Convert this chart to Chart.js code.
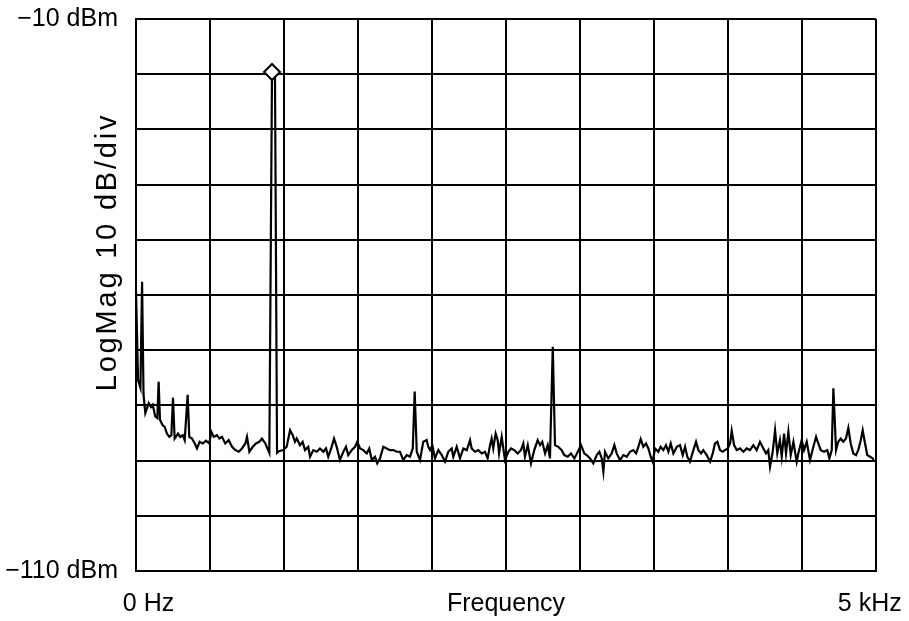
<!DOCTYPE html>
<html lang="en">
<head>
  <meta charset="UTF-8" />
  <title>LogMag spectrum</title>
  <script src="https://cdn.jsdelivr.net/npm/chart.js"></script>
  <style>
    html, body {
      margin: 0;
      padding: 0;
      background: #fff;
    }
    canvas {
      display: block;
    }
  </style>
</head>
<body>

<canvas id="spectrum" width="909" height="621"></canvas>

<script>
  const freqHz = [
    0, 14, 30, 41, 51, 63, 86, 101, 113, 130, 144, 153, 162, 180, 194, 209, 225, 239, 250, 261,
    284, 299, 316, 329, 349, 360, 378, 397, 412, 430, 451, 473, 495, 509, 525, 547, 563, 581, 603, 626,
    649, 671, 694, 716, 739, 750, 766, 789, 811, 833, 851, 874, 901, 919, 939, 953, 966, 995, 1018, 1041,
    1059, 1074, 1086, 1108, 1126, 1142, 1164, 1176, 1198, 1221, 1243, 1266, 1284, 1299, 1322, 1338, 1356, 1378, 1401, 1419,
    1434, 1457, 1480, 1495, 1514, 1536, 1559, 1576, 1593, 1615, 1630, 1649, 1671, 1694, 1716, 1739, 1762, 1784, 1806, 1829,
    1851, 1870, 1883, 1897, 1919, 1941, 1964, 1975, 1987, 2002, 2020, 2043, 2066, 2088, 2110, 2133, 2144, 2167, 2189, 2212,
    2235, 2257, 2268, 2291, 2313, 2336, 2358, 2376, 2392, 2403, 2414, 2430, 2444, 2453, 2471, 2493, 2516, 2534, 2556, 2579,
    2601, 2617, 2628, 2647, 2669, 2691, 2714, 2730, 2745, 2764, 2782, 2797, 2816, 2831, 2853, 2876, 2894, 2917, 2939, 2962,
    2985, 3007, 3029, 3045, 3068, 3090, 3113, 3131, 3147, 3158, 3169, 3191, 3214, 3232, 3248, 3270, 3293, 3316, 3338, 3360,
    3379, 3394, 3410, 3428, 3446, 3462, 3478, 3491, 3507, 3529, 3545, 3563, 3581, 3597, 3613, 3631, 3654, 3676, 3694, 3710,
    3725, 3743, 3766, 3784, 3800, 3818, 3833, 3856, 3879, 3897, 3912, 3928, 3946, 3964, 3980, 3998, 4014, 4025, 4041, 4059,
    4081, 4104, 4126, 4149, 4171, 4194, 4216, 4239, 4257, 4272, 4284, 4302, 4318, 4333, 4351, 4363, 4379, 4392, 4408, 4424,
    4442, 4464, 4475, 4498, 4514, 4532, 4554, 4577, 4595, 4610, 4627, 4649, 4671, 4685, 4701, 4712, 4730, 4745, 4762, 4779,
    4797, 4813, 4829, 4847, 4865, 4880, 4897, 4910, 4926, 4941, 4960, 4978, 4987
  ];

  const levelDbm = [
    -59.1, -75.4, -76.8, -57.6, -78.1, -81.4, -79.6, -80.3, -79.9, -82.0, -82.3, -75.7, -82.6, -83.6, -83.9, -85.1, -85.7, -85.4, -78.6, -86.0,
    -85.1, -85.7, -85.4, -86.3, -78.1, -85.7, -86.0, -86.9, -87.8, -86.6, -86.9, -86.4, -86.9, -84.8, -85.7, -85.4, -86.0, -85.7, -86.9, -86.3,
    -87.5, -88.1, -88.4, -87.8, -86.9, -85.7, -88.4, -87.5, -86.9, -86.6, -86.0, -86.9, -88.6, -19.6, -20.0, -88.6, -88.3, -88.1, -87.5, -84.5,
    -85.4, -86.6, -86.0, -87.2, -86.6, -88.1, -87.5, -89.3, -88.1, -88.4, -87.8, -88.4, -87.8, -89.3, -87.5, -86.0, -87.5, -89.9, -88.4, -87.5,
    -89.0, -88.1, -87.5, -86.6, -87.8, -88.1, -88.7, -87.8, -89.9, -89.3, -90.5, -89.6, -87.5, -87.8, -88.1, -88.1, -88.4, -88.4, -89.9, -89.0,
    -89.3, -87.8, -77.5, -88.4, -89.9, -86.6, -86.3, -87.5, -88.1, -87.2, -89.6, -88.1, -89.0, -90.2, -88.4, -87.8, -89.3, -87.5, -89.6, -87.8,
    -88.1, -86.3, -87.8, -88.4, -88.1, -88.7, -88.4, -89.6, -87.2, -86.0, -87.8, -85.1, -86.3, -88.7, -85.7, -89.9, -88.4, -87.8, -88.1, -88.7,
    -88.1, -86.9, -89.3, -87.2, -90.5, -88.1, -86.3, -87.2, -86.6, -88.7, -87.2, -89.6, -69.4, -87.2, -87.5, -88.1, -89.0, -89.3, -88.7, -89.6,
    -88.4, -87.2, -88.7, -89.0, -89.6, -90.5, -89.0, -88.4, -89.6, -92.0, -88.4, -89.6, -88.7, -87.2, -88.7, -89.9, -89.0, -89.3, -88.4, -88.1,
    -88.7, -87.5, -86.1, -87.5, -86.9, -87.8, -89.3, -90.2, -87.8, -88.4, -87.5, -88.1, -87.2, -88.4, -86.9, -88.7, -87.5, -87.2, -89.0, -87.5,
    -89.3, -90.2, -88.1, -86.6, -88.1, -88.7, -88.1, -89.0, -90.2, -88.7, -86.9, -86.6, -88.1, -88.4, -88.1, -87.8, -86.9, -84.6, -87.2, -88.1,
    -87.8, -88.4, -87.8, -88.1, -87.2, -88.1, -86.6, -87.8, -88.7, -88.1, -91.1, -88.4, -84.5, -88.7, -86.3, -89.3, -85.1, -88.7, -84.8, -89.0,
    -86.6, -90.2, -88.7, -86.3, -88.1, -86.6, -89.9, -87.5, -85.7, -86.9, -88.1, -88.4, -88.1, -89.6, -88.1, -76.9, -88.1, -86.6, -86.0, -86.6,
    -86.0, -84.1, -86.9, -88.7, -89.0, -88.1, -86.3, -84.5, -86.9, -89.0, -89.3, -89.6, -90.2
  ];

  // marker (diamond) sits on the carrier peak
  const markerFreq = 919;

  // axis end labels (en spaces nudge the end labels the way the original sits)
  const xTickLabels = { 0: '\u2002\u20020 Hz', 2500: 'Frequency', 5000: '5 kHz\u2002' };
  const yTickLabels = { '-10': '\u221210 dBm', '-110': '\u2212110 dBm' };
  const yTitle = 'LogMag 10 dB/div';

  const labelFont = { family: "'Liberation Sans', Arial, sans-serif", size: 25 };

  // rotated y title, drawn by hand because it shares the column with the tick labels
  const yTitlePlugin = {
    id: 'yTitle',
    afterDraw(chart) {
      const c = chart.ctx;
      c.save();
      c.translate(108, 252);
      c.rotate(-Math.PI / 2);
      c.font = "29px 'Liberation Sans', Arial, sans-serif";
      if ('letterSpacing' in c) c.letterSpacing = '2.8px';
      c.fillStyle = '#000';
      c.textAlign = 'center';
      c.textBaseline = 'middle';
      c.fillText(yTitle, 0, 0);
      c.restore();
    }
  };

  const ctx = document.getElementById('spectrum').getContext('2d');
  const chart = new Chart(ctx, {
    type: 'line',
    data: {
      datasets: [{
        data: freqHz.map((f, i) => ({ x: f, y: levelDbm[i] })),
        borderColor: '#000',
        borderWidth: 2.2,
        tension: 0,
        pointStyle: 'rectRot',
        pointRadius: c => freqHz[c.dataIndex] === markerFreq ? 8 : 0,
        pointBorderWidth: 2,
        pointBorderColor: '#000',
        pointBackgroundColor: '#fff',
        clip: false
      }]
    },
    options: {
      responsive: false,
      animation: false,
      devicePixelRatio: 1,
      layout: { padding: { top: 19, right: 33, bottom: 0, left: 0 } },
      plugins: {
        legend: { display: false },
        tooltip: { enabled: false }
      },
      scales: {
        x: {
          type: 'linear',
          min: 0,
          max: 5000,
          afterFit(scale) {
            scale.height = 50;
            scale.paddingLeft = 0;
            scale.paddingRight = 0;
          },
          grid: { color: '#000', lineWidth: 2, drawTicks: false },
          border: { color: '#000', width: 2 },
          ticks: {
            stepSize: 500,
            autoSkip: false,
            maxRotation: 0,
            minRotation: 0,
            padding: 18,
            color: '#000',
            font: labelFont,
            callback: v => xTickLabels[v] || ''
          }
        },
        y: {
          min: -110,
          max: -10,
          afterFit(scale) {
            scale.width = 136;
            scale.paddingTop = 0;
            scale.paddingBottom = 0;
          },
          grid: { color: '#000', lineWidth: 2, drawTicks: false },
          border: { color: '#000', width: 2 },
          ticks: {
            stepSize: 10,
            autoSkip: false,
            padding: 18,
            color: '#000',
            font: labelFont,
            callback: v => yTickLabels[String(v)] || ''
          }
        }
      }
    },
    plugins: [yTitlePlugin]
  });
</script>

</body>
</html>
